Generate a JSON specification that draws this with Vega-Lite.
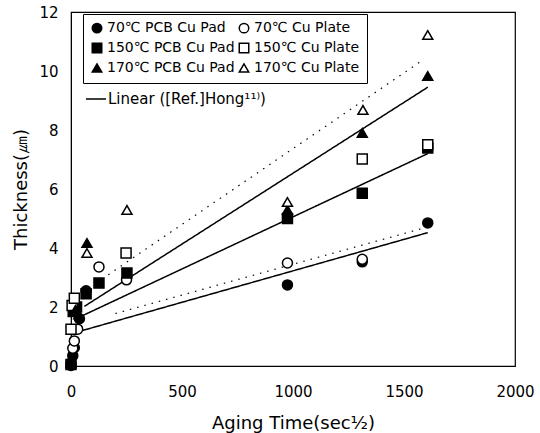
{
  "$schema": "https://vega.github.io/schema/vega-lite/v6.json",
  "width": 444,
  "height": 354,
  "autosize": "none",
  "padding": {"left": 71, "top": 12, "right": 25, "bottom": 67},
  "background": "white",
  "config": {
    "view": {"stroke": "black", "strokeWidth": 1.2},
    "font": "DejaVu Sans",
    "axis": {"grid": false, "ticks": false, "labelFlush": false, "domainColor": "black", "labelColor": "black", "titleColor": "black", "labelFont": "DejaVu Sans", "titleFont": "DejaVu Sans", "labelFontSize": 15, "titleFontSize": 18, "titleFontWeight": "normal", "format": "d"}
  },
  "datasets": {
    "pts": [
      {"series": "70℃ PCB Cu Pad", "x": 0, "y": 0.02},
      {"series": "70℃ PCB Cu Pad", "x": 8, "y": 0.35},
      {"series": "70℃ PCB Cu Pad", "x": 15, "y": 0.62},
      {"series": "70℃ PCB Cu Pad", "x": 38, "y": 1.6},
      {"series": "70℃ PCB Cu Pad", "x": 68, "y": 2.55},
      {"series": "70℃ PCB Cu Pad", "x": 975, "y": 2.75},
      {"series": "70℃ PCB Cu Pad", "x": 1312, "y": 3.53},
      {"series": "70℃ PCB Cu Pad", "x": 1607, "y": 4.85},
      {"series": "70℃ Cu Plate", "x": 0, "y": 0.1},
      {"series": "70℃ Cu Plate", "x": 8, "y": 0.6},
      {"series": "70℃ Cu Plate", "x": 15, "y": 0.85},
      {"series": "70℃ Cu Plate", "x": 30, "y": 1.25},
      {"series": "70℃ Cu Plate", "x": 126, "y": 3.36},
      {"series": "70℃ Cu Plate", "x": 250, "y": 2.92},
      {"series": "70℃ Cu Plate", "x": 975, "y": 3.49},
      {"series": "70℃ Cu Plate", "x": 1312, "y": 3.62},
      {"series": "150℃ PCB Cu Pad", "x": 0, "y": 0.05},
      {"series": "150℃ PCB Cu Pad", "x": 10, "y": 1.85},
      {"series": "150℃ PCB Cu Pad", "x": 25, "y": 2.0},
      {"series": "150℃ PCB Cu Pad", "x": 68, "y": 2.45},
      {"series": "150℃ PCB Cu Pad", "x": 126, "y": 2.81},
      {"series": "150℃ PCB Cu Pad", "x": 252, "y": 3.15},
      {"series": "150℃ PCB Cu Pad", "x": 975, "y": 5.0},
      {"series": "150℃ PCB Cu Pad", "x": 1312, "y": 5.86},
      {"series": "150℃ PCB Cu Pad", "x": 1607, "y": 7.39},
      {"series": "150℃ Cu Plate", "x": 0, "y": 1.25},
      {"series": "150℃ Cu Plate", "x": 5, "y": 2.05},
      {"series": "150℃ Cu Plate", "x": 15, "y": 2.3},
      {"series": "150℃ Cu Plate", "x": 248, "y": 3.83},
      {"series": "150℃ Cu Plate", "x": 1312, "y": 7.02},
      {"series": "150℃ Cu Plate", "x": 1607, "y": 7.5},
      {"series": "170℃ PCB Cu Pad", "x": 0, "y": 0.1},
      {"series": "170℃ PCB Cu Pad", "x": 20, "y": 1.9},
      {"series": "170℃ PCB Cu Pad", "x": 35, "y": 1.75},
      {"series": "170℃ PCB Cu Pad", "x": 72, "y": 4.17},
      {"series": "170℃ PCB Cu Pad", "x": 975, "y": 5.29},
      {"series": "170℃ PCB Cu Pad", "x": 1312, "y": 7.9},
      {"series": "170℃ PCB Cu Pad", "x": 1607, "y": 9.83},
      {"series": "170℃ Cu Plate", "x": 72, "y": 3.83},
      {"series": "170℃ Cu Plate", "x": 252, "y": 5.29},
      {"series": "170℃ Cu Plate", "x": 975, "y": 5.56},
      {"series": "170℃ Cu Plate", "x": 1315, "y": 8.68},
      {"series": "170℃ Cu Plate", "x": 1607, "y": 11.22}
    ],
    "fits": [
      {"line": "L70", "fit": "Linear ([Ref.]Hong¹¹⁾)", "x": 50, "y": 1.2},
      {"line": "L70", "fit": "Linear ([Ref.]Hong¹¹⁾)", "x": 1607, "y": 4.52},
      {"line": "L150", "fit": "Linear ([Ref.]Hong¹¹⁾)", "x": 50, "y": 1.7},
      {"line": "L150", "fit": "Linear ([Ref.]Hong¹¹⁾)", "x": 1607, "y": 7.2},
      {"line": "L170", "fit": "Linear ([Ref.]Hong¹¹⁾)", "x": 60, "y": 2.02},
      {"line": "L170", "fit": "Linear ([Ref.]Hong¹¹⁾)", "x": 1607, "y": 9.45},
      {"line": "D70", "fit": "dotted", "x": 200, "y": 1.78},
      {"line": "D70", "fit": "dotted", "x": 1600, "y": 4.7},
      {"line": "D170", "fit": "dotted", "x": 140, "y": 2.95},
      {"line": "D170", "fit": "dotted", "x": 1590, "y": 10.4}
    ]
  },
  "layer": [
    {
      "data": {"name": "fits"},
      "mark": {"type": "line", "color": "black"},
      "encoding": {
        "x": {"field": "x", "type": "quantitative", "scale": {"domain": [0, 2000], "nice": false}},
        "y": {"field": "y", "type": "quantitative", "scale": {"domain": [0, 12], "nice": false}},
        "detail": {"field": "line"},
        "strokeDash": {
          "field": "fit", "type": "nominal",
          "scale": {"domain": ["Linear ([Ref.]Hong¹¹⁾)", "dotted"], "range": [[1, 0], [1.5, 6]]},
          "legend": {"orient": "none", "legendX": 14, "legendY": 76, "title": null, "values": ["Linear ([Ref.]Hong¹¹⁾)"], "symbolType": "stroke", "symbolSize": 400, "symbolStrokeWidth": 2, "symbolStrokeColor": "black", "labelFontSize": 15, "labelFont": "DejaVu Sans", "labelColor": "black", "labelOffset": 1, "labelLimit": 300}
        },
        "strokeWidth": {"field": "fit", "type": "nominal", "scale": {"domain": ["Linear ([Ref.]Hong¹¹⁾)", "dotted"], "range": [1.5, 1.2]}, "legend": null}
      }
    },
    {
      "data": {"name": "pts"},
      "mark": {"type": "point", "size": 100, "strokeWidth": 1.5, "opacity": 1},
      "encoding": {
        "x": {"field": "x", "type": "quantitative", "title": "Aging Time(sec½)", "axis": {"values": [0, 500, 1000, 1500, 2000], "labelPadding": 18, "titlePadding": 15}},
        "y": {"field": "y", "type": "quantitative", "title": "Thickness(㎛)", "axis": {"values": [0, 2, 4, 6, 8, 10, 12], "labelPadding": 13, "titlePadding": 8}},
        "shape": {
          "field": "series", "type": "nominal",
          "scale": {"domain": ["70℃ PCB Cu Pad", "70℃ Cu Plate", "150℃ PCB Cu Pad", "150℃ Cu Plate", "170℃ PCB Cu Pad", "170℃ Cu Plate"], "range": ["circle", "circle", "square", "square", "triangle-up", "triangle-up"]},
          "legend": {"orient": "none", "direction": "horizontal", "legendX": 12, "legendY": 2, "columns": 2, "title": null, "strokeColor": "black", "padding": 7, "symbolSize": 90, "symbolStrokeWidth": 1.5, "labelFontSize": 14, "labelFont": "DejaVu Sans", "labelColor": "black", "rowPadding": 4, "columnPadding": 1, "labelOffset": 3, "labelLimit": 200}
        },
        "fill": {
          "field": "series", "type": "nominal",
          "scale": {"domain": ["70℃ PCB Cu Pad", "70℃ Cu Plate", "150℃ PCB Cu Pad", "150℃ Cu Plate", "170℃ PCB Cu Pad", "170℃ Cu Plate"], "range": ["black", "white", "black", "white", "black", "white"]}
        },
        "stroke": {
          "field": "series", "type": "nominal",
          "scale": {"domain": ["70℃ PCB Cu Pad", "70℃ Cu Plate", "150℃ PCB Cu Pad", "150℃ Cu Plate", "170℃ PCB Cu Pad", "170℃ Cu Plate"], "range": ["black", "black", "black", "black", "black", "black"]}
        }
      }
    }
  ]
}
